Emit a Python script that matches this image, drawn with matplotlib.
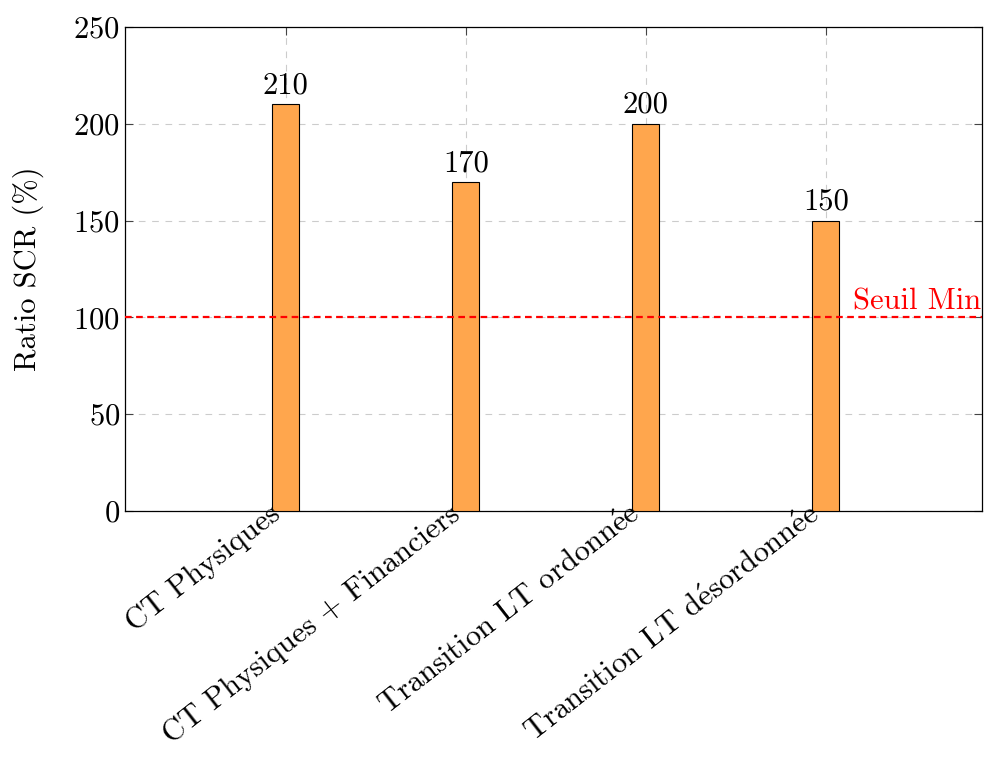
import matplotlib
matplotlib.use('Agg')
import matplotlib.pyplot as plt
import numpy as np

plt.rcParams.update({
    'font.family': ['cmr10', 'DejaVu Serif'],
    'mathtext.fontset': 'cm',
    'axes.formatter.use_mathtext': True,
    'axes.unicode_minus': False,
})

categories = ['CT Physiques', 'CT Physiques + Financiers',
              'Transition LT ordonnée', 'Transition LT désordonnée']
scr_ratio = [210, 170, 200, 150]
seuil_min = 100
yticks = [0, 50, 100, 150, 200, 250]

BAR = '#FFA64D'
FS = 22


def cm_text(s):
    # cmr10 has no é glyph -> build it with a mathtext accent
    return s.replace('é', r'$\acute{\rm e}$')


fig = plt.figure(figsize=(9.84, 7.63), dpi=100)
ax = fig.add_axes([125/984, 252/763, 857/984, 484/763])

x = np.arange(len(categories))
ax.bar(x, scr_ratio, width=0.15, color=BAR, edgecolor='black', linewidth=0.8, zorder=3)
for xi, v in zip(x, scr_ratio):
    ax.text(xi, v + 2.5, str(v), ha='center', va='bottom', fontsize=FS, zorder=4)

ax.axhline(seuil_min, color='red', linestyle=(0, (3, 2)), linewidth=1.6, zorder=5)
ax.text(3.862, seuil_min + 1.2, 'Seuil Min', color='red', ha='right', va='bottom',
        fontsize=FS, zorder=6)

ax.set_xlim(-0.894, 3.867)
ax.set_ylim(0, 250)
ax.set_yticks(yticks)
ax.set_xticks(x)
ax.set_xticklabels([])
# rotated category labels, right end anchored just under each tick
for xi, c in zip(x, categories):
    ax.annotate(cm_text(c), (xi, 0), xytext=(-6.5, 0), textcoords='offset points',
                rotation=38, ha='right', va='center', rotation_mode='anchor',
                fontsize=FS, annotation_clip=False)
ax.tick_params(axis='both', labelsize=FS, direction='in', length=6, width=0.8,
               top=True, right=True, colors='#444444', labelcolor='black')
ax.set_ylabel('Ratio SCR (%)', fontsize=FS, labelpad=21)

ax.grid(True, color='#cccccc', linestyle=(0, (6, 6)), linewidth=0.8, zorder=0)
for s in ax.spines.values():
    s.set_linewidth(0.9)

plt.savefig('out.png', dpi=100)
